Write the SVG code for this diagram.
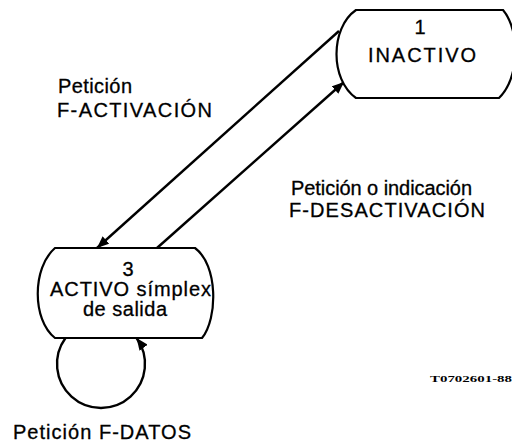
<svg xmlns="http://www.w3.org/2000/svg" width="512" height="446" viewBox="0 0 512 446">
<style>
.node{fill:#fff;stroke:#000;stroke-width:2.2}
.edge{fill:none;stroke:#000;stroke-width:2.4}
.t{font-family:"Liberation Sans",Arial,sans-serif;font-size:20px;fill:#000;stroke:#000;stroke-width:0.3}
.m{text-anchor:middle}
.fig{font-family:"Liberation Serif","Times New Roman",serif;font-size:9px;font-weight:bold;fill:#000}
</style>
<defs>
<marker id="ah" markerUnits="userSpaceOnUse" markerWidth="13" markerHeight="10" refX="12" refY="5" orient="auto">
<path d="M0,0 L12,5 L0,10 Z" fill="#000"/>
</marker>
</defs>
<rect width="512" height="446" fill="#fff"/>
<g id="connectors">
<line class="edge" x1="339" y1="31" x2="97" y2="248" marker-end="url(#ah)"/>
<line class="edge" x1="157" y1="248" x2="344" y2="82" marker-end="url(#ah)"/>
<path class="edge" d="M65.5,338 A44,44 0 1 0 136.5,338" marker-end="url(#ah)"/>
</g>
<g id="node1">
<path class="node" d="M356,10 H503 C520,30 520,78 499,98 H356 C330,80 330,28 356,10 Z"/>
<text class="t m" x="420" y="34">1</text>
<text class="t" x="368" y="62" textLength="108" lengthAdjust="spacing">INACTIVO</text>
</g>
<g id="node3">
<path class="node" d="M55,248 H195 C218,265 218,318 202,338 H55 C32,320 32,268 55,248 Z"/>
<text class="t m" x="128" y="276">3</text>
<text class="t" x="50" y="296" textLength="161" lengthAdjust="spacing">ACTIVO símplex</text>
<text class="t" x="83" y="316" textLength="84" lengthAdjust="spacing">de salida</text>
</g>
<g id="labels">
<text class="t" x="58" y="93" textLength="74" lengthAdjust="spacing">Petición</text>
<text class="t" x="57" y="117" textLength="155" lengthAdjust="spacing">F-ACTIVACIÓN</text>
<text class="t" x="291" y="195" textLength="181" lengthAdjust="spacing">Petición o indicación</text>
<text class="t" x="289" y="217" textLength="196" lengthAdjust="spacing">F-DESACTIVACIÓN</text>
<text class="t" x="13" y="439" textLength="178" lengthAdjust="spacing">Petición F-DATOS</text>
<text class="fig" x="430" y="382" textLength="82" lengthAdjust="spacingAndGlyphs">T0702601-88</text>
</g>
</svg>
